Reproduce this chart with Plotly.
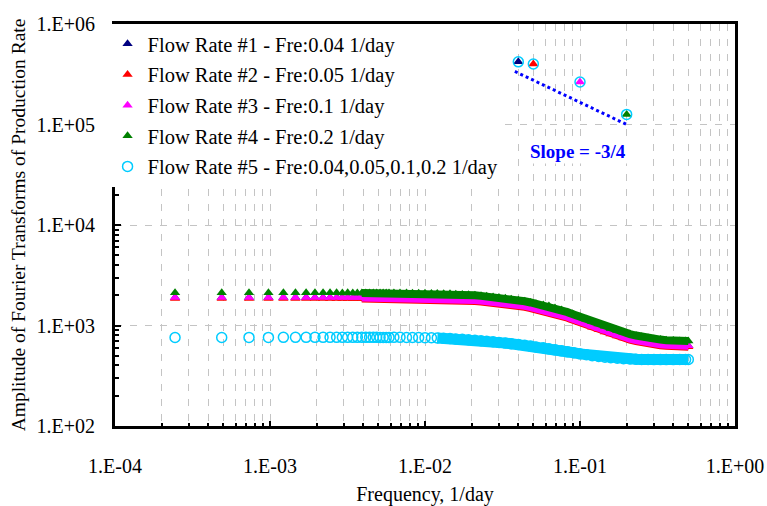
import plotly.graph_objects as go

# ---------------- data ----------------
# Frequencies, 1/day : FFT grid points at low frequency, then denser part
freq = [0.000244, 0.000488, 0.000732, 0.000977, 0.00122, 0.00146, 0.00171, 0.00195,
        0.00220, 0.00244, 0.00269, 0.00293, 0.00317, 0.00342, 0.00366, 0.00391,
        0.00415, 0.00439, 0.00464, 0.00488, 0.00513, 0.00537, 0.00562, 0.00586,
        0.0063, 0.0069, 0.0076, 0.0083, 0.0091, 0.0100, 0.011, 0.012, 0.0132, 0.0145,
        0.0158, 0.0174, 0.0191, 0.021, 0.023, 0.025, 0.0275, 0.030, 0.033, 0.036,
        0.040, 0.044, 0.048, 0.052, 0.058, 0.063, 0.069, 0.076, 0.083, 0.091,
        0.10, 0.11, 0.12, 0.132, 0.145, 0.158, 0.174, 0.191, 0.21, 0.23,
        0.25, 0.275, 0.30, 0.33, 0.36, 0.40, 0.44, 0.48, 0.50]

amp_flow1 = [1902, 1901, 1902, 1901, 1902, 1901, 1901, 1902, 1901, 1901, 1901, 1900,
             1901, 1900, 1900, 1900, 1899, 1899, 1899, 1899, 1898, 1898, 1898, 1897,
             1895, 1893, 1890, 1887, 1885, 1880, 1876, 1872, 1868, 1859,
             1846, 1833, 1816, 1796, 1775, 1755, 1731, 1707, 1676, 1645,
             1607, 1568, 1525, 1483, 1443, 1404, 1346, 1286, 1222, 1159,
             1097, 1038, 982, 932, 884, 840, 802, 770, 740, 715,
             694, 677, 662, 652, 643, 637, 633, 630, 630]

amp_flow2 = [1859, 1859, 1859, 1859, 1859, 1859, 1859, 1859, 1859, 1859, 1859, 1858,
             1859, 1858, 1858, 1858, 1857, 1857, 1857, 1857, 1856, 1856, 1856, 1855,
             1853, 1851, 1848, 1845, 1843, 1838, 1834, 1830, 1826, 1817,
             1805, 1793, 1776, 1756, 1735, 1716, 1692, 1669, 1639, 1609,
             1572, 1533, 1491, 1450, 1411, 1373, 1316, 1258, 1195, 1133,
             1073, 1015, 960, 911, 864, 821, 784, 752, 723, 699,
             678, 662, 648, 637, 628, 623, 619, 616, 616]

amp_flow3 = [1902, 1901, 1902, 1901, 1902, 1901, 1901, 1902, 1901, 1901, 1901, 1900,
             1901, 1900, 1900, 1900, 1899, 1899, 1899, 1899, 1898, 1898, 1898, 1897,
             1895, 1893, 1890, 1887, 1885, 1880, 1876, 1872, 1868, 1859,
             1846, 1833, 1816, 1796, 1775, 1755, 1731, 1707, 1676, 1645,
             1607, 1568, 1525, 1483, 1443, 1404, 1346, 1286, 1222, 1159,
             1097, 1038, 982, 932, 884, 840, 802, 770, 740, 715,
             694, 677, 662, 652, 643, 637, 633, 630, 630]

amp_flow4 = [2113, 2112, 2113, 2112, 2113, 2112, 2112, 2113, 2112, 2112, 2112, 2111,
             2112, 2111, 2111, 2111, 2110, 2110, 2110, 2110, 2109, 2109, 2109, 2108,
             2106, 2103, 2100, 2097, 2094, 2089, 2084, 2080, 2075, 2065,
             2051, 2037, 2018, 1995, 1972, 1950, 1923, 1897, 1862, 1828,
             1786, 1742, 1694, 1648, 1603, 1560, 1496, 1429, 1358, 1288,
             1219, 1153, 1091, 1035, 982, 933, 891, 855, 822, 794,
             771, 752, 736, 724, 714, 708, 703, 700, 700]

amp_flow5 = [759, 760, 761, 761, 762, 762, 762, 762, 762, 762, 762, 762,
             762, 762, 762, 762, 762, 762, 762, 762, 761, 761, 761, 761,
             762, 762, 760, 760, 759, 757, 755, 752, 748, 743,
             736, 729, 721, 713, 705, 697, 689, 679, 668, 658,
             647, 635, 624, 612, 600, 586, 573, 560, 547, 535,
             522, 512, 501, 492, 484, 478, 472, 468, 465, 462,
             460, 459, 458, 458, 458, 458, 459, 459, 459]

# peaks at the stimulation frequencies
peak_freq = [0.04, 0.05, 0.1, 0.2]
peak_amp = [420000, 400000, 265000, 126000]

# slope guide line
slope_freq = [0.038, 0.2]
slope_amp = [337000, 100000]

names = ["Flow Rate #1 - Fre:0.04 1/day",
         "Flow Rate #2 - Fre:0.05 1/day",
         "Flow Rate #3 - Fre:0.1 1/day",
         "Flow Rate #4 - Fre:0.2 1/day",
         "Flow Rate #5 - Fre:0.04,0.05,0.1,0.2 1/day"]

x_tickvals = [1e-4, 1e-3, 1e-2, 1e-1, 1]
x_ticktext = ["1.E-04", "1.E-03", "1.E-02", "1.E-01", "1.E+00"]
y_tickvals = [1e2, 1e3, 1e4, 1e5, 1e6]
y_ticktext = ["1.E+02", "1.E+03", "1.E+04", "1.E+05", "1.E+06"]

# ---------------- figure ----------------
FONT = "Liberation Serif, Times New Roman, serif"
colors = ["#000080", "#FF0000", "#FF00FF", "#008000"]
amps = [amp_flow1, amp_flow2, amp_flow3, amp_flow4]

fig = go.Figure()
DENSE = 15  # index from which markers overlap into a continuous band

for i in range(4):
    # continuous band where markers overlap
    fig.add_trace(go.Scatter(x=freq[DENSE:], y=amps[i][DENSE:], mode="lines",
                             line=dict(color=colors[i], width=8),
                             showlegend=False, hoverinfo="skip",
                             legendgroup=f"g{i}"))
    fig.add_trace(go.Scatter(x=freq + [peak_freq[i]], y=amps[i] + [peak_amp[i]],
                             mode="markers", name=names[i], legendgroup=f"g{i}",
                             marker=dict(symbol="triangle-up", size=9, color=colors[i],
                                         line=dict(width=0))))

fig.add_trace(go.Scatter(x=freq[31:], y=amp_flow5[31:], mode="lines",
                         line=dict(color="#00CCFF", width=11),
                         showlegend=False, hoverinfo="skip", legendgroup="g4"))
fig.add_trace(go.Scatter(x=freq + peak_freq, y=amp_flow5 + peak_amp, mode="markers",
                         name=names[4], legendgroup="g4",
                         marker=dict(symbol="circle-open", size=10, color="#00CCFF",
                                     line=dict(width=1.5, color="#00CCFF"))))

fig.add_trace(go.Scatter(x=slope_freq, y=slope_amp, mode="lines",
                         line=dict(color="#0000FF", width=3, dash="dot"),
                         showlegend=False, hoverinfo="skip"))

minor_x = [m * 10.0 ** e for e in range(-4, 0) for m in range(2, 10)]
minor_y = [m * 10.0 ** e for e in range(2, 6) for m in range(2, 10)]
GRID = "#C4C4C4"

fig.update_layout(
    width=767, height=506,
    margin=dict(l=115, r=32, t=24, b=80),
    paper_bgcolor="white", plot_bgcolor="white",
    font=dict(family=FONT, size=20, color="black"),
    showlegend=True,
    legend=dict(x=-0.012, y=1.0, xanchor="left", yanchor="top",
                bgcolor="white", borderwidth=0,
                font=dict(family=FONT, size=20.5, color="black"),
                tracegroupgap=1, itemsizing="trace"),
    xaxis=dict(type="log", range=[-4, 0], automargin=False,
               tickmode="array", tickvals=x_tickvals, ticktext=x_ticktext,
               ticks="inside", ticklen=5, tickwidth=2, tickcolor="black",
               ticklabelstandoff=20,
               showline=True, linewidth=3, linecolor="black", mirror=True,
               showgrid=True, gridcolor=GRID, gridwidth=1, griddash="7px,8px",
               zeroline=False,
               tickfont=dict(family=FONT, size=20),
               title=dict(text="Frequency, 1/day", standoff=14,
                          font=dict(family=FONT, size=20)),
               minor=dict(tickmode="array", tickvals=minor_x, ticks="inside",
                          ticklen=3, tickwidth=2, tickcolor="black",
                          showgrid=True, gridcolor=GRID, gridwidth=1,
                          griddash="7px,8px")),
    yaxis=dict(type="log", range=[2, 6], automargin=False,
               tickmode="array", tickvals=y_tickvals, ticktext=y_ticktext,
               ticks="inside", ticklen=6, tickwidth=2, tickcolor="black",
               ticklabelstandoff=13,
               showline=True, linewidth=3, linecolor="black", mirror=True,
               showgrid=True, gridcolor=GRID, gridwidth=1, griddash="7px,8px",
               zeroline=False,
               tickfont=dict(family=FONT, size=20),
               title=dict(text="Amplitude of Fourier Transforms of Production Rate",
                          standoff=6, font=dict(family=FONT, size=19.5)),
               minor=dict(tickmode="array", tickvals=minor_y, ticks="inside",
                          ticklen=4, tickwidth=2, tickcolor="black",
                          showgrid=False)),
    annotations=[dict(x=-1.013, y=4.73, xref="x", yref="y",
                      text="<b>Slope = -3/4</b>", showarrow=False,
                      font=dict(family=FONT, size=19, color="#0000FF"),
                      bgcolor="white")],
)

fig.write_html("out.html")
